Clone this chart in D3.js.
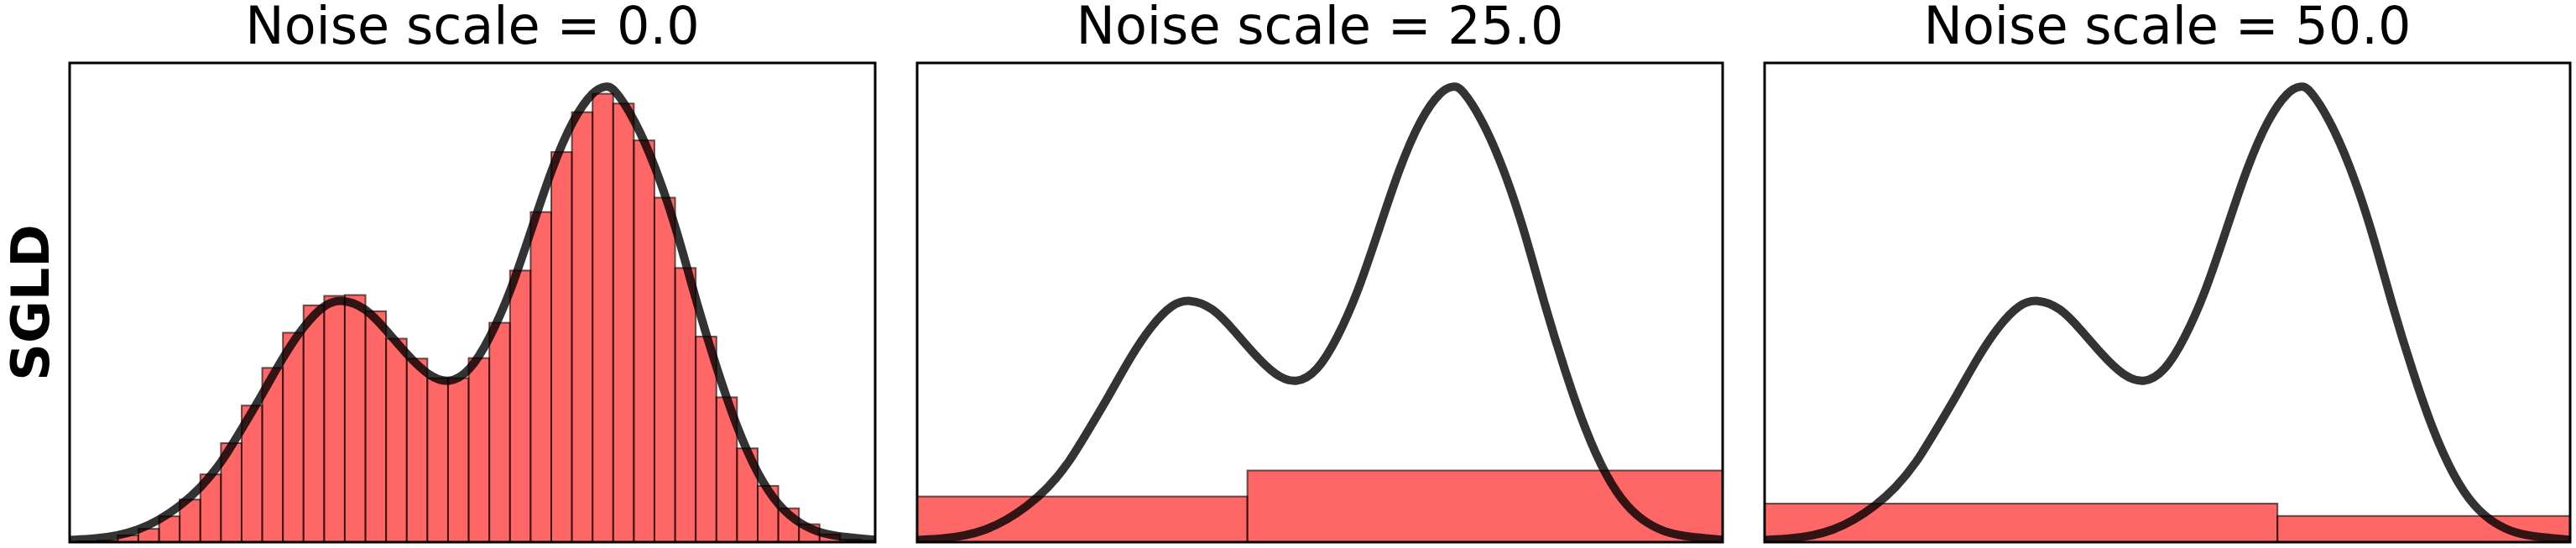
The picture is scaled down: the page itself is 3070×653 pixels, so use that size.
<!DOCTYPE html>
<html><head><meta charset="utf-8">
<script src="https://cdn.jsdelivr.net/npm/d3@7"></script>
<style>body{margin:0;background:#fff}svg{display:block}</style>
</head><body>
<script>
// ---- data ----
const titles = ["Noise scale = 0.0", "Noise scale = 25.0", "Noise scale = 50.0"];
const rowLabel = "SGLD";
const xDomain = [-6, 6];

// target density curve (x, y)
const curveX = [-6.0,-5.59,-5.293,-4.982,-4.672,-4.362,-4.052,-3.741,-3.444,-3.133,-2.823,-2.513,-2.203,-1.942,-1.594,-1.284,-0.974,-0.664,-0.353,-0.043,0.255,0.565,0.875,1.185,1.496,1.806,1.992,2.104,2.414,2.724,3.035,3.345,3.655,3.953,4.263,4.573,4.884,5.194,5.504,6.0];
const curveY = [0.0012,0.0021,0.0038,0.0070,0.0129,0.0211,0.0319,0.0467,0.0665,0.0871,0.1095,0.1280,0.1410,0.1440,0.1390,0.1254,0.1109,0.0985,0.0935,0.1005,0.1200,0.1475,0.1844,0.2215,0.2505,0.2675,0.2700,0.2690,0.2505,0.2226,0.1862,0.1407,0.1007,0.0661,0.0388,0.0206,0.0106,0.0051,0.0030,0.0014];

// histogram, noise scale 0.0
const hist0Edges = [-5.898,-5.591,-5.283,-4.976,-4.668,-4.361,-4.053,-3.746,-3.438,-3.131,-2.823,-2.516,-2.208,-1.901,-1.593,-1.286,-0.978,-0.671,-0.363,-0.056,0.252,0.560,0.867,1.175,1.482,1.790,2.097,2.405,2.712,3.020,3.327,3.635,3.942,4.250,4.557,4.865,5.172,5.480,5.787,6.095];
const hist0Values = [0.0005,0.0010,0.0040,0.0079,0.0153,0.0252,0.0401,0.0586,0.0808,0.1031,0.1239,0.1401,0.1457,0.1462,0.1366,0.1204,0.1086,0.0970,0.0970,0.1089,0.1298,0.1607,0.1953,0.2308,0.2544,0.2653,0.2595,0.2377,0.2038,0.1622,0.1216,0.0857,0.0555,0.0333,0.0200,0.0106,0.0046,0.0015,0.0010];

// histogram, noise scale 25.0
const hist1Edges = [-15.5, -1.08, 13.3];
const hist1Values = [0.0270, 0.0424];

// histogram, noise scale 50.0
const hist2Edges = [-24.46, 1.64, 27.74];
const hist2Values = [0.0228, 0.0155];

// ---- layout ----
const W = 3070, H = 653;
const panelLeft = [83, 1093, 2103];
const panelW = 960, panelTop = 75, panelBottom = 646;
const fontFam = "'DejaVu Sans', sans-serif";

const svg = d3.select("body").append("svg").attr("width", W).attr("height", H)
  .style("background", "#fff");

const curvePts = curveX.map((x, i) => [x, curveY[i]]);
const hists = [
  {edges: hist0Edges, values: hist0Values},
  {edges: hist1Edges, values: hist1Values},
  {edges: hist2Edges, values: hist2Values}
];
const yMax = 1.05 * d3.max([d3.max(curveY), d3.max(hist0Values)]);

hists.forEach((h, p) => {
  const x0 = panelLeft[p];
  const x = d3.scaleLinear().domain(xDomain).range([x0, x0 + panelW]);
  const y = d3.scaleLinear().domain([0, yMax]).range([panelBottom, panelTop]);

  const clipId = "clip" + p;
  svg.append("clipPath").attr("id", clipId).append("rect")
    .attr("x", x0).attr("y", panelTop).attr("width", panelW).attr("height", panelBottom - panelTop);

  const g = svg.append("g").attr("clip-path", `url(#${clipId})`);

  const bins = h.values.map((v, i) => ({x0: h.edges[i], x1: h.edges[i + 1], v}));
  g.selectAll("rect.bar").data(bins).join("rect")
    .attr("class", "bar")
    .attr("x", d => x(d.x0))
    .attr("width", d => x(d.x1) - x(d.x0))
    .attr("y", d => y(d.v))
    .attr("height", d => y(0) - y(d.v))
    .attr("fill", "rgb(255,0,0)").attr("fill-opacity", 0.6)
    .attr("stroke", "#000").attr("stroke-opacity", 0.6).attr("stroke-width", 2);

  const line = d3.line().x(d => x(d[0])).y(d => y(d[1])).curve(d3.curveBasis);
  g.append("path").datum(curvePts)
    .attr("d", line)
    .attr("fill", "none")
    .attr("stroke", "#000").attr("stroke-opacity", 0.8)
    .attr("stroke-width", 10).attr("stroke-linejoin", "round");

  // frame
  svg.append("rect")
    .attr("x", x0).attr("y", panelTop).attr("width", panelW).attr("height", panelBottom - panelTop)
    .attr("fill", "none").attr("stroke", "#000").attr("stroke-width", 3);

  svg.append("text")
    .attr("x", x0 + panelW / 2).attr("y", 52)
    .attr("text-anchor", "middle")
    .style("font-family", fontFam).style("font-size", "62px")
    .text(titles[p]);
});

svg.append("text")
  .attr("transform", `translate(58, ${(panelTop + panelBottom) / 2}) rotate(-90)`)
  .attr("text-anchor", "middle")
  .style("font-family", fontFam).style("font-size", "62px").style("font-weight", "bold")
  .text(rowLabel);
</script>
</body></html>
